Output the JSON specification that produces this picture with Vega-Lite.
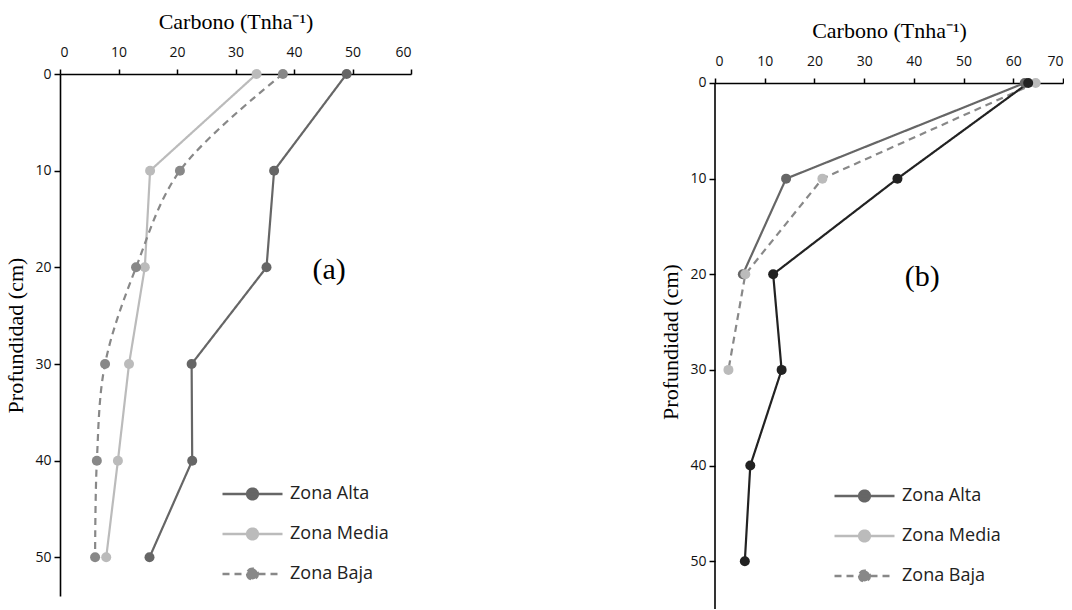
{
  "$schema": "https://vega.github.io/schema/vega-lite/v6.json",
  "background": "white",
  "padding": {"left": 4, "top": 10, "right": 0, "bottom": 0},
  "config": {
    "view": {"stroke": null},
    "axis": {
      "domainColor": "#000000", "domainWidth": 1.6, "tickColor": "#000000", "tickWidth": 1.5, "tickSize": 5,
      "grid": false, "labelFont": "Open Sans", "labelFontSize": 14, "labelColor": "#111111",
      "titleFont": "Liberation Serif", "titleFontSize": 22, "titleFontWeight": "normal", "titleColor": "#000000"
    },
    "legend": {
      "title": null,
      "symbolType": "M-1,0L1,0M-0.18,0A0.18,0.18 0 1,0 0.18,0A0.18,0.18 0 1,0 -0.18,0Z",
      "symbolSize": 3600,
      "clipHeight": 38,
      "rowPadding": 2,
      "symbolStrokeWidth": 2.4,
      "labelFont": "Open Sans",
      "labelFontSize": 18,
      "labelColor": "#222222",
      "labelOffset": 6
    }
  },
  "datasets": {
    "a": [
      {"zona": "Zona Alta", "prof": 0, "carbono": 49.0},
      {"zona": "Zona Alta", "prof": 10, "carbono": 36.6},
      {"zona": "Zona Alta", "prof": 20, "carbono": 35.3},
      {"zona": "Zona Alta", "prof": 30, "carbono": 22.5},
      {"zona": "Zona Alta", "prof": 40, "carbono": 22.6},
      {"zona": "Zona Alta", "prof": 50, "carbono": 15.3},
      {"zona": "Zona Media", "prof": 0, "carbono": 33.6},
      {"zona": "Zona Media", "prof": 10, "carbono": 15.4},
      {"zona": "Zona Media", "prof": 20, "carbono": 14.5},
      {"zona": "Zona Media", "prof": 30, "carbono": 11.8},
      {"zona": "Zona Media", "prof": 40, "carbono": 9.9},
      {"zona": "Zona Media", "prof": 50, "carbono": 7.9},
      {"zona": "Zona Baja", "prof": 0, "carbono": 38.1},
      {"zona": "Zona Baja", "prof": 10, "carbono": 20.5},
      {"zona": "Zona Baja", "prof": 20, "carbono": 13.0},
      {"zona": "Zona Baja", "prof": 30, "carbono": 7.7},
      {"zona": "Zona Baja", "prof": 40, "carbono": 6.3},
      {"zona": "Zona Baja", "prof": 50, "carbono": 6.0}
    ],
    "b": [
      {"zona": "Zona Alta", "prof": 0, "carbono": 62.3},
      {"zona": "Zona Alta", "prof": 10, "carbono": 14.3},
      {"zona": "Zona Alta", "prof": 20, "carbono": 5.6},
      {"zona": "Zona Baja", "prof": 0, "carbono": 64.5},
      {"zona": "Zona Baja", "prof": 10, "carbono": 21.6},
      {"zona": "Zona Baja", "prof": 20, "carbono": 6.1},
      {"zona": "Zona Baja", "prof": 30, "carbono": 2.7},
      {"zona": "Serie 4", "prof": 0, "carbono": 63.0},
      {"zona": "Serie 4", "prof": 10, "carbono": 36.7},
      {"zona": "Serie 4", "prof": 20, "carbono": 11.7},
      {"zona": "Serie 4", "prof": 30, "carbono": 13.4},
      {"zona": "Serie 4", "prof": 40, "carbono": 7.1},
      {"zona": "Serie 4", "prof": 50, "carbono": 6.0}
    ],
    "ejeB": [
      {"carbono": 0, "prof": 0, "prof2": 55}
    ]
  },
  "spacing": 247,
  "resolve": {
    "scale": {"color": "independent", "strokeDash": "independent", "fill": "independent", "x": "independent", "y": "independent"},
    "legend": {"color": "independent", "strokeDash": "independent", "fill": "independent"}
  },
  "hconcat": [
    {
      "width": 351, "height": 522,
      "data": {"name": "a"},
      "encoding": {
        "x": {"field": "carbono", "type": "quantitative",
          "scale": {"domain": [0, 60], "nice": false, "zero": false},
          "axis": {"orient": "top", "values": [0, 10, 20, 30, 40, 50, 60], "title": "Carbono (Tnha⁻¹)", "labelPadding": 10, "titlePadding": 12}},
        "y": {"field": "prof", "type": "quantitative",
          "scale": {"domain": [0, 54], "reverse": true, "nice": false, "zero": false},
          "axis": {"values": [0, 10, 20, 30, 40, 50], "title": "Profundidad (cm)", "tickSize": 6, "labelPadding": 3, "titlePadding": 7}}
      },
      "layer": [
        {
          "transform": [{"filter": "datum.zona !== 'Zona Baja'"}],
          "mark": {"type": "line", "strokeWidth": 2.2},
          "encoding": {
            "color": {"field": "zona", "type": "nominal",
              "scale": {"domain": ["Zona Alta", "Zona Media", "Zona Baja"], "range": ["#666666", "#bbbbbb", "#888888"]},
              "legend": {"orient": "none", "legendX": 161, "legendY": 401,
                "encode": {"symbols": {"update": {"fill": {"signal": "datum.value === 'Zona Alta' ? '#666666' : datum.value === 'Zona Media' ? '#bbbbbb' : '#888888'"}, "fillOpacity": {"value": 1}}}}}},
            "strokeDash": {"field": "zona", "type": "nominal",
              "scale": {"domain": ["Zona Alta", "Zona Media", "Zona Baja"], "range": [[1, 0], [1, 0], [7, 5]]},
              "legend": {"orient": "none", "legendX": 161, "legendY": 401}},
            "order": {"field": "prof", "type": "quantitative"}
          }
        },
        {
          "transform": [{"filter": "datum.zona === 'Zona Baja'"}],
          "mark": {"type": "line", "strokeWidth": 2.2, "interpolate": "catmull-rom"},
          "encoding": {
            "color": {"field": "zona", "type": "nominal"},
            "strokeDash": {"field": "zona", "type": "nominal"},
            "order": {"field": "prof", "type": "quantitative"}
          }
        },
        {
          "mark": {"type": "point", "filled": true, "size": 100, "opacity": 1},
          "encoding": {
            "fill": {"field": "zona", "type": "nominal",
              "scale": {"domain": ["Zona Alta", "Zona Media", "Zona Baja"], "range": ["#666666", "#bbbbbb", "#888888"]},
              "legend": null}
          }
        },
        {
          "data": {"values": [{"carbono": 46, "prof": 20.3, "etiqueta": "(a)"}]},
          "mark": {"type": "text", "font": "Liberation Serif", "fontSize": 30, "color": "#000000"},
          "encoding": {"text": {"field": "etiqueta", "type": "nominal"}}
        }
      ]
    },
    {
      "width": 348, "height": 535,
      "data": {"name": "b"},
      "encoding": {
        "x": {"field": "carbono", "type": "quantitative",
          "scale": {"domain": [0, 70], "nice": false, "zero": false},
          "axis": {"orient": "top", "offset": -9, "values": [0, 10, 20, 30, 40, 50, 60, 70], "title": "Carbono (Tnha⁻¹)", "labelPadding": 10, "titlePadding": 12}},
        "y": {"field": "prof", "type": "quantitative",
          "scale": {"domain": [-0.94, 55], "reverse": true, "nice": false, "zero": false},
          "axis": {"values": [0, 10, 20, 30, 40, 50], "domain": false, "title": "Profundidad (cm)", "tickSize": 6, "labelPadding": 3, "titlePadding": 7}}
      },
      "layer": [
        {
          "data": {"name": "ejeB"},
          "mark": {"type": "rule", "color": "#000000", "strokeWidth": 1.6},
          "encoding": {"y2": {"field": "prof2"}}
        },
        {
          "mark": {"type": "line", "strokeWidth": 2.2},
          "encoding": {
            "color": {"field": "zona", "type": "nominal",
              "scale": {"domain": ["Zona Alta", "Zona Media", "Zona Baja", "Serie 4"], "range": ["#666666", "#bbbbbb", "#888888", "#222222"]},
              "legend": {"orient": "none", "legendX": 118, "legendY": 403, "values": ["Zona Alta", "Zona Media", "Zona Baja"],
                "encode": {"symbols": {"update": {"fill": {"signal": "datum.value === 'Zona Alta' ? '#666666' : datum.value === 'Zona Media' ? '#bbbbbb' : '#888888'"}, "fillOpacity": {"value": 1}}}}}},
            "strokeDash": {"field": "zona", "type": "nominal",
              "scale": {"domain": ["Zona Alta", "Zona Media", "Zona Baja", "Serie 4"], "range": [[1, 0], [1, 0], [7, 5], [1, 0]]},
              "legend": {"orient": "none", "legendX": 118, "legendY": 403, "values": ["Zona Alta", "Zona Media", "Zona Baja"]}},
            "order": {"field": "prof", "type": "quantitative"}
          }
        },
        {
          "mark": {"type": "point", "filled": true, "size": 100, "opacity": 1},
          "encoding": {
            "fill": {"field": "zona", "type": "nominal",
              "scale": {"domain": ["Zona Alta", "Zona Baja", "Serie 4"], "range": ["#666666", "#bbbbbb", "#222222"]},
              "legend": null}
          }
        },
        {
          "data": {"values": [{"carbono": 41.7, "prof": 20.3, "etiqueta": "(b)"}]},
          "mark": {"type": "text", "font": "Liberation Serif", "fontSize": 30, "color": "#000000"},
          "encoding": {"text": {"field": "etiqueta", "type": "nominal"}}
        }
      ]
    }
  ]
}
